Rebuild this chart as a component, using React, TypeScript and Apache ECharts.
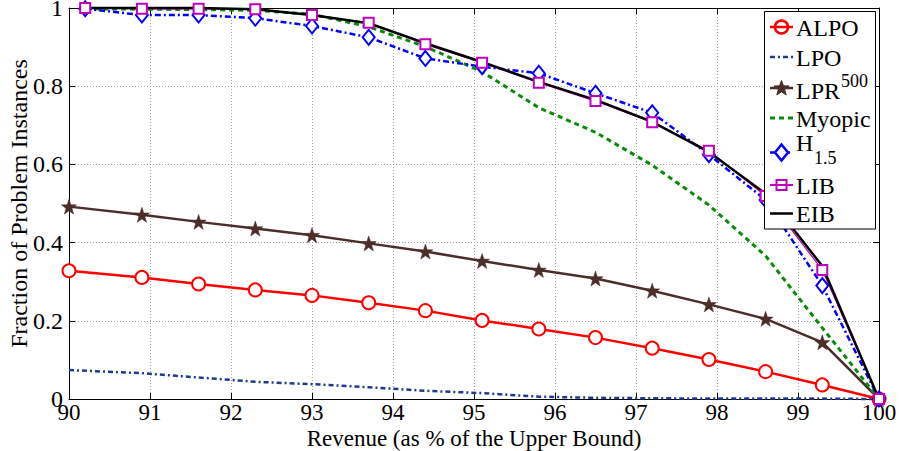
import React, { useEffect, useRef } from 'react';
import * as echarts from 'echarts';

// Revenue grid (x, as % of the upper bound)
const revenueA = [90, 90.9, 91.6, 92.3, 93.0, 93.7, 94.4, 95.1, 95.8, 96.5, 97.2, 97.9, 98.6, 99.3, 100];
const revenueB = [90.2, 90.9, 91.6, 92.3, 93.0, 93.7, 94.4, 95.1, 95.8, 96.5, 97.2, 97.9, 98.6, 99.3, 100];

// Fraction of problem instances
const alpo = [0.328, 0.311, 0.294, 0.279, 0.265, 0.246, 0.226, 0.201, 0.179, 0.157, 0.130, 0.101, 0.070, 0.036, 0];
const lpo = [0.074, 0.066, 0.055, 0.044, 0.038, 0.030, 0.021, 0.015, 0.006, 0.003, 0.002, 0.001, 0.001, 0.001, 0];
const lpr500 = [0.492, 0.471, 0.453, 0.436, 0.419, 0.398, 0.377, 0.353, 0.330, 0.308, 0.277, 0.242, 0.205, 0.145, 0];
const myopic = [0.998, 0.997, 0.996, 0.994, 0.984, 0.952, 0.901, 0.837, 0.745, 0.682, 0.598, 0.496, 0.366, 0.182, 0];
const h15 = [0.998, 0.982, 0.982, 0.974, 0.954, 0.925, 0.871, 0.850, 0.833, 0.782, 0.732, 0.625, 0.509, 0.290, 0];
const lib = [1.0, 0.998, 0.998, 0.997, 0.982, 0.962, 0.907, 0.860, 0.809, 0.762, 0.708, 0.635, 0.519, 0.330, 0];
const eib = [1.0, 1.0, 1.0, 0.997, 0.982, 0.961, 0.910, 0.862, 0.811, 0.765, 0.709, 0.632, 0.525, 0.340, 0];

const xTickMin = 90;
const xTickMax = 100;
const yTickMin = 0;
const yTickMax = 1;

const seriesNames = ['ALPO', 'LPO', 'LPR500', 'Myopic', 'H1.5', 'LIB', 'EIB'];

const FONT = 'Liberation Serif, Times New Roman, serif';

const pair = (xs: number[], ys: number[]) => xs.map((x, i) => [x, ys[i]]);

const STAR = 'path://M0,-10 L2.35,-3.24 L9.51,-3.09 L3.8,1.24 L5.88,8.09 L0,4 L-5.88,8.09 L-3.8,1.24 L-9.51,-3.09 L-2.35,-3.24 Z';

const C = {
  alpo: '#ff0000',
  lpo: '#1f3a93',
  lpr: '#4b2d2a',
  myopic: '#0a8a0a',
  h: '#0000ff',
  lib: '#c000c0',
  eib: '#000000',
};

function starPoints(cx: number, cy: number, ro: number, ri: number) {
  const pts: number[][] = [];
  for (let k = 0; k < 10; k++) {
    const r = k % 2 === 0 ? ro : ri;
    const a = -Math.PI / 2 + (k * Math.PI) / 5;
    pts.push([cx + r * Math.cos(a), cy + r * Math.sin(a)]);
  }
  return pts;
}

function buildLegend() {
  const lx0 = 770;
  const lx1 = 793;
  const mx = 781.5;
  const tx = 796;
  const els: any[] = [];
  els.push({
    type: 'rect',
    shape: { x: 764.5, y: 11.5, width: 111, height: 217.5 },
    style: { fill: '#fff', stroke: '#000', lineWidth: 1 },
    z: 100,
  });
  const text = (t: string, x: number, y: number, size = 24) => ({
    type: 'text',
    x,
    y,
    z: 102,
    style: {
      text: t,
      font: `${size}px ${FONT}`,
      fill: '#000',
      align: 'left',
      verticalAlign: 'middle',
      textAlign: 'left',
      textVerticalAlign: 'middle',
    },
  });
  const line = (y: number, color: string, w: number, dash?: number[]) => ({
    type: 'line',
    z: 101,
    shape: { x1: lx0, y1: y, x2: lx1, y2: y },
    style: { stroke: color, lineWidth: w, lineDash: dash || null },
  });
  // ALPO
  els.push(line(27, C.alpo, 2.5));
  els.push({ type: 'circle', z: 101, shape: { cx: mx, cy: 27, r: 6.5 }, style: { fill: 'none', stroke: C.alpo, lineWidth: 2.5 } });
  els.push(text('ALPO', tx, 28));
  // LPO
  els.push(line(57, C.lpo, 2.5, [5, 3, 2, 3]));
  els.push(text('LPO', tx, 57.5));
  // LPR500
  els.push(line(88, C.lpr, 2.5));
  els.push({ type: 'polygon', z: 101, shape: { points: starPoints(mx, 88.5, 8, 3.3) }, style: { fill: C.lpr, stroke: C.lpr, lineWidth: 1 } });
  els.push(text('LPR', tx, 90.5));
  els.push(text('500', 841, 80.5, 18));
  // Myopic
  els.push(line(118, C.myopic, 3, [5, 4]));
  els.push(text('Myopic', tx, 119));
  // H1.5
  els.push(line(152.5, C.h, 2.5, [6, 3, 2, 3]));
  els.push({
    type: 'polygon',
    z: 101,
    shape: { points: [[mx, 152.5 - 8], [mx + 6.5, 152.5], [mx, 152.5 + 8], [mx - 6.5, 152.5]] },
    style: { fill: '#fff', stroke: C.h, lineWidth: 2.5 },
  });
  els.push(text('H', tx, 143));
  els.push(text('1.5', 814, 157.5, 18));
  // LIB
  els.push(line(185, C.lib, 2));
  els.push({ type: 'rect', z: 101, shape: { x: mx - 5, y: 185 - 5, width: 10, height: 10 }, style: { fill: 'none', stroke: C.lib, lineWidth: 2 } });
  els.push(text('LIB', tx, 186));
  // EIB
  els.push(line(213.5, C.eib, 2.5));
  els.push(text('EIB', tx, 214));
  return els;
}

export default function App() {
  const ref = useRef<HTMLDivElement>(null);
  useEffect(() => {
    document.body.style.margin = '0';
    const chart = echarts.init(ref.current!, null, { renderer: 'svg' });
    const labelStyle = { fontSize: 24, fontFamily: FONT, color: '#000' };
    const xText = { fontSize: 23, fontFamily: FONT, color: '#000', lineHeight: 23 };
    const option: any = {
      animation: false,
      backgroundColor: '#fff',
      textStyle: { fontFamily: FONT },
      grid: { left: 69, right: 20, top: 8, bottom: 52, containLabel: false, outerBoundsMode: 'none' },
      legend: { show: false },
      xAxis: [
        {
          type: 'value',
          min: xTickMin,
          max: xTickMax,
          interval: 1,
          position: 'bottom',
          name: 'Revenue (as % of the Upper Bound)',
          nameLocation: 'middle',
          nameGap: 28,
          nameMoveOverlap: false,
          nameTextStyle: { ...xText },
          axisLine: { show: true, onZero: false, lineStyle: { color: '#000', width: 1 } },
          axisTick: { show: true, inside: true, length: 6, lineStyle: { color: '#000' } },
          axisLabel: { ...xText, margin: 1.5 },
          splitLine: { show: true, lineStyle: { color: '#a0a0a0', width: 1, type: [1, 2] } },
        },
        {
          type: 'value',
          min: xTickMin,
          max: xTickMax,
          interval: 1,
          position: 'top',
          axisLine: { show: true, onZero: false, lineStyle: { color: '#000', width: 1 } },
          axisTick: { show: true, inside: true, length: 6, lineStyle: { color: '#000' } },
          axisLabel: { show: false },
          splitLine: { show: false },
        },
      ],
      yAxis: [
        {
          type: 'value',
          min: yTickMin,
          max: yTickMax,
          interval: 0.2,
          position: 'left',
          name: 'Fraction of Problem Instances',
          nameLocation: 'middle',
          nameGap: 38,
          nameMoveOverlap: false,
          nameTextStyle: { ...labelStyle },
          axisLine: { show: true, onZero: false, lineStyle: { color: '#000', width: 1 } },
          axisTick: { show: true, inside: true, length: 6, lineStyle: { color: '#000' } },
          axisLabel: { ...labelStyle, lineHeight: 16, margin: 6 },
          splitLine: { show: true, lineStyle: { color: '#a0a0a0', width: 1, type: [1, 2] } },
        },
        {
          type: 'value',
          min: yTickMin,
          max: yTickMax,
          interval: 0.2,
          position: 'right',
          axisLine: { show: true, onZero: false, lineStyle: { color: '#000', width: 1 } },
          axisTick: { show: true, inside: true, length: 6, lineStyle: { color: '#000' } },
          axisLabel: { show: false },
          splitLine: { show: false },
        },
      ],
      series: [
        {
          name: seriesNames[0],
          type: 'line',
          data: pair(revenueA, alpo),
          clip: false,
          symbol: 'emptyCircle',
          symbolSize: 13,
          lineStyle: { color: C.alpo, width: 2.5 },
          itemStyle: { color: C.alpo, borderColor: C.alpo, borderWidth: 2.5 },
        },
        {
          name: seriesNames[1],
          type: 'line',
          data: pair(revenueA, lpo),
          clip: false,
          symbol: 'none',
          lineStyle: { color: C.lpo, width: 2.5, type: [5, 3, 2, 3] },
          itemStyle: { color: C.lpo },
        },
        {
          name: seriesNames[2],
          type: 'line',
          data: pair(revenueA, lpr500),
          clip: false,
          symbol: STAR,
          symbolSize: 15,
          lineStyle: { color: C.lpr, width: 2.5 },
          itemStyle: { color: C.lpr, borderColor: C.lpr, borderWidth: 0.5 },
        },
        {
          name: seriesNames[3],
          type: 'line',
          data: pair(revenueB, myopic),
          clip: false,
          symbol: 'none',
          lineStyle: { color: C.myopic, width: 3, type: [5, 4] },
          itemStyle: { color: C.myopic },
        },
        {
          name: seriesNames[4],
          type: 'line',
          data: pair(revenueB, h15),
          clip: false,
          symbol: 'emptyDiamond',
          symbolSize: [12, 15],
          lineStyle: { color: C.h, width: 2.5, type: [6, 3, 2, 3] },
          itemStyle: { color: C.h, borderColor: C.h, borderWidth: 2.5 },
        },
        {
          name: seriesNames[5],
          type: 'line',
          data: pair(revenueB, lib),
          clip: false,
          symbol: 'emptyRect',
          symbolSize: 10,
          lineStyle: { color: C.lib, width: 1.2 },
          itemStyle: { color: C.lib, borderColor: C.lib, borderWidth: 2 },
        },
        {
          name: seriesNames[6],
          type: 'line',
          data: pair(revenueB, eib),
          clip: false,
          symbol: 'none',
          lineStyle: { color: C.eib, width: 2.5 },
          itemStyle: { color: C.eib },
        },
      ],
      graphic: buildLegend(),
    };
    chart.setOption(option);
    return () => chart.dispose();
  }, []);
  return <div ref={ref} style={{ width: 899, height: 451 }} />;
}
